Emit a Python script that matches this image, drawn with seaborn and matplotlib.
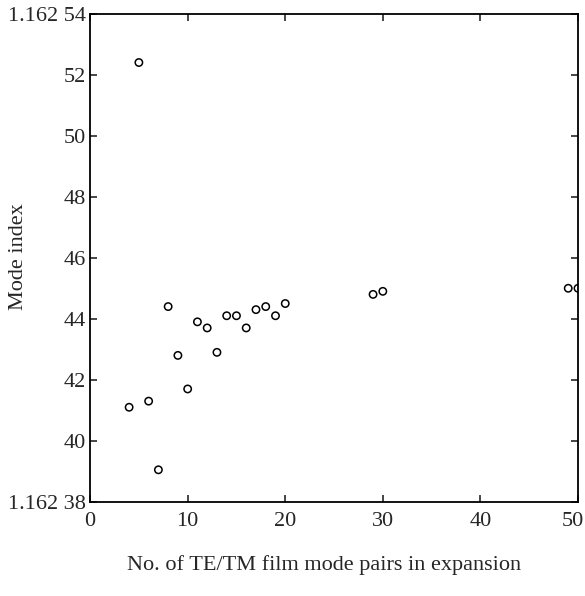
import matplotlib
matplotlib.use("Agg")
import matplotlib.pyplot as plt
import matplotlib.transforms as mtransforms
import seaborn as sns
import pandas as pd

pairs = [4, 5, 6, 7, 8, 9, 10, 11, 12, 13, 14, 15, 16, 17, 18, 19, 20, 29, 30, 49, 50]
mode_index = [41.1, 52.4, 41.3, 39.05, 44.4, 42.8, 41.7, 43.9, 43.7, 42.9, 44.1,
              44.1, 43.7, 44.3, 44.4, 44.1, 44.5, 44.8, 44.9, 45.0, 45.0]
xticks = [0, 10, 20, 30, 40, 50]
yticks = [38, 40, 42, 44, 46, 48, 50, 52, 54]
ytick_labels = ["1.162 38", "40", "42", "44", "46", "48", "50", "52", "1.162 54"]

sns.set_style("ticks")
plt.rcParams['font.family'] = ['Liberation Serif', 'DejaVu Serif']

df = pd.DataFrame({"x": pairs, "y": mode_index})
fig = plt.figure(figsize=(5.85, 5.96), dpi=100)
ax = fig.add_axes([0.154, 0.158, 0.834, 0.819])
sns.scatterplot(data=df, x="x", y="y", ax=ax, marker="o", s=28,
                facecolors="none", edgecolor="black", linewidth=1.1)
ax.set_xlim(0, 50)
ax.set_ylim(38, 54)
ax.set_xticks(xticks)
ax.set_yticks(yticks)
ax.set_yticklabels(ytick_labels)
ax.tick_params(direction="in", top=True, right=True, labelsize=16, length=5,
               width=1.2)
ax.tick_params(axis="x", pad=7)
ax.tick_params(axis="y", pad=3)
for s in ax.spines.values():
    s.set_linewidth(1.3)
    s.set_color("black")
# keep the last x tick label inside the canvas
last = ax.get_xticklabels()[-1]
last.set_transform(last.get_transform() +
                   mtransforms.ScaledTranslation(-4 / 72, 0, fig.dpi_scale_trans))
ax.set_xlabel("No. of TE/TM film mode pairs in expansion", fontsize=16)
ax.set_ylabel("Mode index", fontsize=16)
ax.xaxis.set_label_coords(0.48, -0.129)
ax.yaxis.set_label_coords(-0.147, 0.502)
ax.xaxis.label.set_va("center")
ax.yaxis.label.set_va("center")
fig.savefig("out.png", dpi=100)
